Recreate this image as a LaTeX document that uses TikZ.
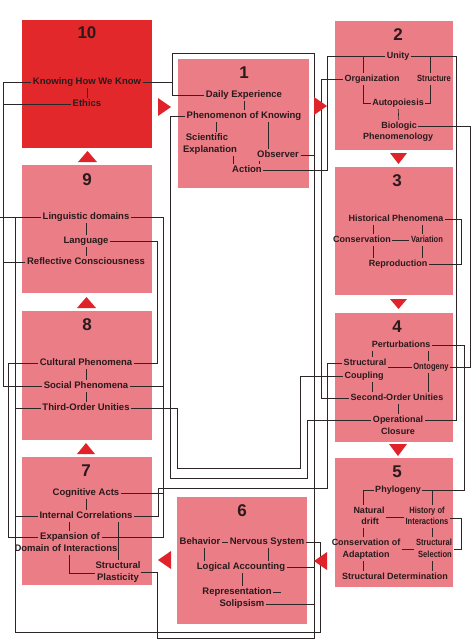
\documentclass[tikz,border=0pt]{standalone}
\usepackage{fontspec}
\newfontfamily\labfont{Liberation Sans}
\newcommand\narrowtext[1]{\scalebox{0.84}[1]{#1}}
\definecolor{ink}{HTML}{2A1A1C}
\definecolor{wirecol}{HTML}{2C2626}
\definecolor{pinkfill}{HTML}{EA7D86}
\definecolor{redfill}{HTML}{E3282C}
\definecolor{trired}{HTML}{E0232A}

\begin{document}
\begin{tikzpicture}[x=1pt,y=-1pt,
    lab/.style={font=\labfont\bfseries\fontsize{9.5}{11}\selectfont,text=ink,
      inner sep=1.5pt,text height=7pt,text depth=2pt},
    labr/.style={lab,font=\labfont\bfseries\fontsize{9}{11}\selectfont},
    num/.style={font=\labfont\bfseries\fontsize{17}{17}\selectfont,text=ink},
    wire/.style={draw=wirecol,line width=0.6pt},
    pinkbox/.style={fill=pinkfill},
    redbox/.style={fill=redfill},
    tri/.style={fill=trired}]
  \useasboundingbox (0,0) rectangle (475,640);

  % the ten boxes
  \fill[redbox] (22,20) rectangle (152,148);
  \foreach \xa/\ya/\xb/\yb in {22/165/152/293, 22/311/152/440, 22/457/152/585,
      178/59/309/188, 177/497/307/624, 335/21/453/150, 335/167/453/295,
      335/313/453/442, 335/458/453/587}
    \fill[pinkbox] (\xa,\ya) rectangle (\xb,\yb);

  % box 10
  \node[num] (n10) at (87,33) {10};
  \node[lab] (know) at (87,82) {Knowing How We Know};
  \node[lab] (ethics) at (87,104) {Ethics};
  % box 9
  \node[num] (n9) at (87,180) {9};
  \node[lab] (ling) at (86,217) {Linguistic domains};
  \node[lab] (lang) at (86,241) {Language};
  \node[lab] (refl) at (86,262) {Reflective Consciousness};
  % box 8
  \node[num] (n8) at (87,325) {8};
  \node[lab] (cult) at (86,363) {Cultural Phenomena};
  \node[lab] (social) at (86,386) {Social Phenomena};
  \node[lab] (third) at (86,408) {Third-Order Unities};
  % box 7
  \node[num] (n7) at (86,471) {7};
  \node[lab] (cog) at (86,493) {Cognitive Acts};
  \node[lab] (intc) at (86,516) {Internal Correlations};
  \node[lab] (expa1) at (70,537) {Expansion of};
  \node[lab] (expa2) at (66,549) {Domain of Interactions};
  \node[lab] (plast1) at (118,566) {Structural};
  \node[lab] (plast2) at (118,578) {Plasticity};
  % box 1
  \node[num] (n1) at (244,73) {1};
  \node[lab] (daily) at (244,95) {Daily Experience};
  \node[lab] (phen) at (244,116) {Phenomenon of Knowing};
  \node[lab] (sci1) at (207,138) {Scientific};
  \node[lab] (sci2) at (210,150) {Explanation};
  \node[lab] (obs) at (278,155) {Observer};
  \node[lab] (act) at (247,170) {Action};
  % box 2
  \node[num] (n2) at (398,35) {2};
  \node[labr] (unity) at (398,56) {Unity};
  \node[labr] (org) at (372,79) {Organization};
  \node[labr] (struc) at (434,79) {\narrowtext{Structure}};
  \node[labr] (auto) at (398,103) {Autopoiesis};
  \node[labr] (bio) at (399,126) {Biologic};
  \node[labr] (pheno) at (398,137) {Phenomenology};
  % box 3
  \node[num] (n3) at (397,181) {3};
  \node[labr] (hist) at (396,219) {Historical Phenomena};
  \node[labr] (cons) at (362,240) {Conservation};
  \node[labr] (vari) at (427,240) {\narrowtext{Variation}};
  \node[labr] (repr) at (398,264) {Reproduction};
  % box 4
  \node[num] (n4) at (397,327) {4};
  \node[labr] (pert) at (401,345) {Perturbations};
  \node[labr] (sc1) at (365,363) {Structural};
  \node[labr] (sc2) at (364,376) {Coupling};
  \node[labr] (onto) at (431,367) {\narrowtext{Ontogeny}};
  \node[labr] (sou) at (397,398) {Second-Order Unities};
  \node[labr] (opcl1) at (398,420) {Operational};
  \node[labr] (opcl2) at (398,432) {Closure};
  % box 5
  \node[num] (n5) at (397,472) {5};
  \node[labr] (phyl) at (398,490) {Phylogeny};
  \node[labr] (drift1) at (369,511) {Natural};
  \node[labr] (drift2) at (370,522) {drift};
  \node[labr] (hist51) at (427,511) {\narrowtext{History of}};
  \node[labr] (hist52) at (427,522) {\narrowtext{Interactions}};
  \node[labr] (consad1) at (366,543) {Conservation of};
  \node[labr] (consad2) at (366,555) {Adaptation};
  \node[labr] (sel1) at (434,543) {\narrowtext{Structural}};
  \node[labr] (sel2) at (435,555) {\narrowtext{Selection}};
  \node[labr] (det) at (395,577) {Structural Determination};
  % box 6
  \node[num] (n6) at (242,511) {6};
  \node[lab] (beh) at (200,542) {Behavior};
  \node[lab] (nerv) at (267,542) {Nervous System};
  \node[lab] (logic) at (241,567) {Logical Accounting};
  \node[lab] (rep) at (237,592) {Representation};
  \node[lab] (sol) at (242,604) {Solipsism};
  \coordinate (repend) at (281,592);

  % links inside the boxes
  \draw[wire] (know) -- (ethics);
  \draw[wire] (ling) -- (lang);
  \draw[wire] (lang) -- (refl);
  \draw[wire] (cult) -- (social);
  \draw[wire] (social) -- (third);
  \draw[wire] (cog) -- (intc);
  \draw[wire] (intc.south -| 69,0) -- (expa1.north -| 69,0);
  \draw[wire] (intc.south -| 118,0) -- (plast1.north -| 118,0);
  \draw[wire] (expa2.south -| 69,0) |- (plast2.west |- 0,573);
  \draw[wire] (daily) -- (phen);
  \draw[wire] (phen.south -| 216,0) -- (sci1.north -| 216,0);
  \draw[wire] (phen.south -| 268,0) -- (obs.north -| 268,0);
  \draw[wire] (sci2.south -| 233,0) -- (act.north -| 233,0);
  \draw[wire] (obs.south -| 259,0) -- (act.north -| 259,0);
  \draw[wire] (unity.west) -| (org.north -| 363,0);
  \draw[wire] (unity.east) -| (struc.north -| 430,0);
  \draw[wire] (org.south -| 363,0) |- (auto.west);
  \draw[wire] (struc.south -| 430,0) |- (auto.east);
  \draw[wire] (auto) -- (bio);
  \draw[wire] (hist.south -| 373,0) -- (cons.north -| 373,0);
  \draw[wire] (hist.south -| 422,0) -- (vari.north -| 422,0);
  \draw[wire] (cons) -- (vari);
  \draw[wire] (cons.south -| 373,0) -- (repr.north -| 373,0);
  \draw[wire] (vari.south -| 422,0) -- (repr.north -| 422,0);
  \draw[wire] (pert.south -| 372,0) -- (sc1.north -| 372,0);
  \draw[wire] (pert.south -| 428,0) -- (onto.north -| 428,0);
  \draw[wire] (onto.west -| sc1.east) -- (onto.west);
  \draw[wire] (sc2.south -| 372,0) -- (sou.north -| 372,0);
  \draw[wire] (onto.south -| 428,0) -- (sou.north -| 428,0);
  \draw[wire] (sou.south -| 398,0) -- (opcl1.north -| 398,0);
  \draw[wire] (phyl.west) -| (drift1.north -| 363,0);
  \draw[wire] (phyl.east) -| (hist51.north -| 432,0);
  \draw[wire] (drift1.east |- 0,517) -- (hist52.west |- 0,517);
  \draw[wire] (drift2.south -| 363,0) -- (consad1.north -| 363,0);
  \draw[wire] (hist52.south -| 432,0) -- (sel1.north -| 432,0);
  \draw[wire] (consad1.east |- 0,549) -- (sel1.west |- 0,549);
  \draw[wire] (consad2.south -| 363,0) -- (det.north -| 363,0);
  \draw[wire] (sel2.south -| 432,0) -- (det.north -| 432,0);
  \draw[wire] (beh) -- (nerv);
  \draw[wire] (beh.south -| 204,0) -- (logic.north -| 204,0);
  \draw[wire] (nerv.south -| 268,0) -- (logic.north -| 268,0);
  \draw[wire] (logic.south -| 242,0) -- (rep.north -| 242,0);
  \draw[wire] (rep.east) -- (repend);

  % links on the left margin
  \draw[wire] (know.west) -- (know.west -| 3,0) |- (social.west);
  \draw[wire] (ethics.west) -- (ethics.west -| 3,0);
  \draw[wire] (ling.west) -- (ling.west -| 0,0);
  \draw[wire] (refl.west) -- (refl.west -| 3,0);
  \draw[wire] (ling.west) -| (15,632) -| (nerv.east -| 320,0) -- (nerv.east);
  \draw[wire] (third.west) -- (third.west -| 15,0);
  \draw[wire] (intc.west) -- (intc.west -| 15,0);
  \draw[wire] (cult.west) -- (cult.west -| 8,0) |- (expa1.west);

  % links through the middle
  \draw[wire] (know.east) -| (daily.west -| 172,0) -- (daily.west);
  \draw[wire] (know.east -| 172,0) |- (314,53) |- (157,638) |- (plast2.east |- 0,572);
  \draw[wire] (obs.east) -- (obs.east -| 314,0);
  \draw[wire] (logic.east) -- (logic.east -| 314,0);
  \draw[wire] (sol.east) -- (sol.east -| 314,0);
  \draw[wire] (ling.east) -- (ling.east -| 163,0) |- (expa1.east);
  \draw[wire] (social.east) -- (social.east -| 163,0);
  \draw[wire] (cog.east) -- (cog.east -| 163,0);
  \draw[wire] (lang.east) -- (lang.east -| 157,0) |- (cult.east);
  \draw[wire] (phen.west) -| (170,478) -| (opcl1.west -| 307,0) -- (opcl1.west);
  \draw[wire] (third.east) -| (177,468) -| (sc2.west -| 300,0) -- (sc2.west);
  \draw[wire] (intc.east) -| (158,488) -| (sc1.west -| 327,0) -- (sc1.west);
  \draw[wire] (act.east) -| (unity.west -| 327,0) -- (unity.west);
  \draw[wire] (org.west) -- (org.west -| 321,0) |- (sou.west);

  % links on the right margin
  \draw[wire] (unity.east) -- (unity.east -| 456,0) |- (opcl1.east);
  \draw[wire] (bio.east) -- (bio.east -| 470,0) |- (onto.east);
  \draw[wire] (hist.east) -- (hist.east -| 461,0) |- (repr.east);
  \draw[wire] (pert.east) -- (pert.east -| 464,0) |- (phyl.east);
  \draw[wire] (hist52.east |- 0,518) -| (461,549) -- (sel1.east |- 0,549);

  % arrow heads between the boxes
  \fill[tri] (158,98) -- (171,107) -- (158,116) -- cycle;
  \fill[tri] (314,97) -- (327,106) -- (314,115) -- cycle;
  \fill[tri] (390,153) -- (407,153) -- (398.5,164) -- cycle;
  \fill[tri] (390,299) -- (407,299) -- (398.5,309) -- cycle;
  \fill[tri] (389,444) -- (407,444) -- (398,456) -- cycle;
  \fill[tri] (327,552) -- (314,561) -- (327,570) -- cycle;
  \fill[tri] (171,551) -- (158,560) -- (171,569) -- cycle;
  \fill[tri] (77,454) -- (95,454) -- (86,443) -- cycle;
  \fill[tri] (77,308) -- (96,308) -- (86.5,297) -- cycle;
  \fill[tri] (78,162) -- (97,162) -- (87.5,151) -- cycle;
\end{tikzpicture}
\end{document}
